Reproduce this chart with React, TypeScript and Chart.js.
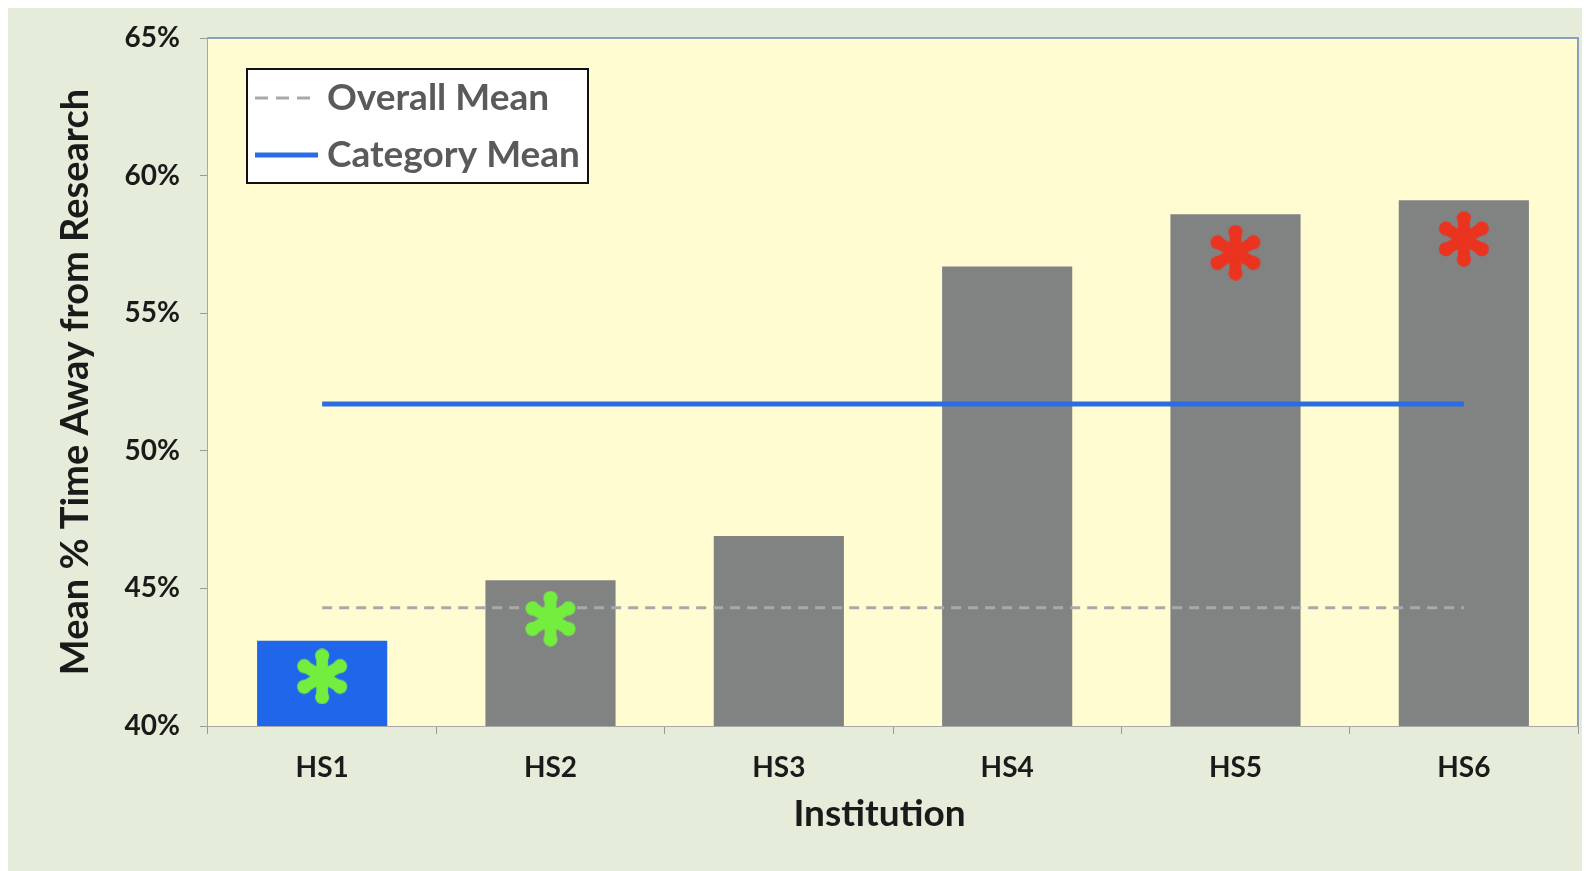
import React, { useEffect, useRef } from "react";
import { Chart, registerables } from "chart.js";

Chart.register(...registerables);

// ---------- data ----------
const categories = ["HS1", "HS2", "HS3", "HS4", "HS5", "HS6"];
const timeAwayPct = [43.1, 45.3, 46.9, 56.7, 58.6, 59.1];
const barColors = ["#1f66ea", "#818383", "#818383", "#818383", "#818383", "#818383"];
const overallMean = [44.3, 44.3, 44.3, 44.3, 44.3, 44.3];
const categoryMean = [51.7, 51.7, 51.7, 51.7, 51.7, 51.7];
const asteriskValues: (number | null)[] = [41.8, 43.9, null, null, 57.2, 57.7];
const asteriskColors = ["#74ee3e", "#74ee3e", "#74ee3e", "#74ee3e", "#ea3420", "#ea3420"];
const yMin = 40;
const yMax = 65;
const yStep = 5;

const FONT = "Lato, 'Open Sans', sans-serif";

function makeAsterisk(color: string, size: number): HTMLCanvasElement {
  const c = document.createElement("canvas");
  c.width = size;
  c.height = size;
  const ctx = c.getContext("2d")!;
  const lw = size * 0.21;
  ctx.strokeStyle = color;
  ctx.fillStyle = color;
  ctx.lineWidth = lw;
  ctx.lineCap = "round";
  const cx = size / 2;
  const cy = size / 2;
  const r = size / 2 - lw * 0.62;
  for (let k = 0; k < 3; k++) {
    const a = Math.PI / 2 + (k * Math.PI) / 3;
    ctx.beginPath();
    ctx.moveTo(cx - r * Math.cos(a), cy - r * Math.sin(a));
    ctx.lineTo(cx + r * Math.cos(a), cy + r * Math.sin(a));
    ctx.stroke();
  }
  for (let k = 0; k < 6; k++) {
    const a = Math.PI / 2 + (k * Math.PI) / 3;
    ctx.beginPath();
    ctx.arc(cx + r * Math.cos(a), cy + r * Math.sin(a), lw * 0.6, 0, Math.PI * 2);
    ctx.fill();
  }
  return c;
}

const plotBgPlugin = {
  id: "plotBg",
  beforeDatasetsDraw(chart: any) {
    const { ctx, chartArea } = chart;
    const { left, top, right, bottom } = chartArea;
    ctx.save();
    ctx.fillStyle = "#fefcd0";
    ctx.fillRect(left, top, right - left, bottom - top);
    ctx.strokeStyle = "#8ba0bd";
    ctx.lineWidth = 2;
    ctx.beginPath();
    ctx.moveTo(left, top);
    ctx.lineTo(right, top);
    ctx.lineTo(right, bottom);
    ctx.stroke();
    ctx.restore();
  },
};

const customLegendPlugin = {
  id: "customLegend",
  afterDraw(chart: any) {
    const { ctx, chartArea } = chart;
    const x = chartArea.left + 39;
    const y = chartArea.top + 31;
    const w = 341;
    const h = 114;
    ctx.save();
    ctx.fillStyle = "#ffffff";
    ctx.fillRect(x, y, w, h);
    ctx.strokeStyle = "#111111";
    ctx.lineWidth = 2;
    ctx.strokeRect(x, y, w, h);
    const items = chart.data.datasets.filter((d: any) => d.showInLegend);
    const rows = [29, 86];
    items.forEach((d: any, i: number) => {
      const ry = y + rows[i];
      ctx.beginPath();
      ctx.strokeStyle = d.borderColor;
      ctx.lineWidth = d.legendLineWidth;
      ctx.setLineDash(d.legendDash || []);
      ctx.moveTo(x + 8, ry);
      ctx.lineTo(x + 71, ry);
      ctx.stroke();
      ctx.setLineDash([]);
      ctx.fillStyle = "#5a5a5a";
      ctx.font = `bold 37px ${FONT}`;
      ctx.textBaseline = "middle";
      ctx.textAlign = "left";
      ctx.fillText(d.label, x + 80, ry);
    });
    ctx.restore();
  },
};

export default function App() {
  const canvasRef = useRef<HTMLCanvasElement | null>(null);

  useEffect(() => {
    if (!canvasRef.current) return;
    const asteriskImgs = asteriskColors.map((c) => makeAsterisk(c, 56));
    const chart = new Chart(canvasRef.current, {
      type: "bar",
      data: {
        labels: categories,
        datasets: [
          {
            type: "bar",
            label: "Time Away",
            data: timeAwayPct,
            backgroundColor: barColors,
            barPercentage: 0.57,
            categoryPercentage: 1,
            order: 3,
          } as any,
          {
            type: "line",
            label: "Overall Mean",
            data: overallMean,
            borderColor: "#a9a9a9",
            borderWidth: 3,
            borderDash: [10, 7],
            pointRadius: 0,
            fill: false,
            order: 2,
            showInLegend: true,
            legendLineWidth: 3,
            legendDash: [13, 8],
          } as any,
          {
            type: "line",
            label: "Category Mean",
            data: categoryMean,
            borderColor: "#2a6ce3",
            borderWidth: 5,
            pointRadius: 0,
            fill: false,
            order: 2,
            showInLegend: true,
            legendLineWidth: 5,
          } as any,
          {
            type: "line",
            label: "Significance",
            data: asteriskValues,
            showLine: false,
            pointStyle: asteriskImgs as any,
            pointRadius: 28,
            order: 1,
          } as any,
        ],
      },
      options: {
        responsive: false,
        animation: false,
        devicePixelRatio: 1,
        layout: { autoPadding: false, padding: { left: 0, top: 30, right: 12, bottom: 35 } },
        plugins: {
          legend: { display: false },
          tooltip: { enabled: false },
        },
        scales: {
          x: {
            type: "category",
            grid: {
              offset: true,
              drawOnChartArea: false,
              drawTicks: true,
              tickLength: 8,
              color: "#9a9a9a",
            },
            border: { display: true, color: "#a8a8a8", width: 2 },
            ticks: {
              color: "#1a1a1a",
              padding: 17,
              font: { family: FONT, size: 28, weight: "bold" },
            },
            title: {
              display: true,
              text: "Institution\u00A0\u00A0\u00A0",
              color: "#1a1a1a",
              padding: 0,
              font: { family: FONT, size: 37, weight: "bold" },
            },
            afterFit: (s: any) => {
              s.height = 110;
              s.paddingLeft = 0;
              s.paddingRight = 0;
            },
          },
          y: {
            type: "linear",
            min: yMin,
            max: yMax,
            grid: {
              drawOnChartArea: false,
              drawTicks: true,
              tickLength: 8,
              color: "#9a9a9a",
            },
            border: { display: true, color: "#a8a8a8", width: 2 },
            ticks: {
              stepSize: yStep,
              color: "#1a1a1a",
              padding: 20,
              font: { family: FONT, size: 28, weight: "bold" },
              callback: (v: any) => `${v}%`,
            },
            title: {
              display: true,
              text: "Mean % Time Away from Research",
              color: "#1a1a1a",
              padding: { top: 45, bottom: 0 },
              font: { family: FONT, size: 38, weight: "bold" },
            },
            afterFit: (s: any) => {
              s.width = 200;
              s.paddingTop = 0;
              s.paddingBottom = 0;
            },
          },
        },
      },
      plugins: [plotBgPlugin, customLegendPlugin],
    });
    return () => chart.destroy();
  }, []);

  return (
    <div style={{ width: 1582, height: 863, background: "#e5ecd9" }}>
      <canvas ref={canvasRef} width={1582} height={863} style={{ display: "block" }} />
    </div>
  );
}
